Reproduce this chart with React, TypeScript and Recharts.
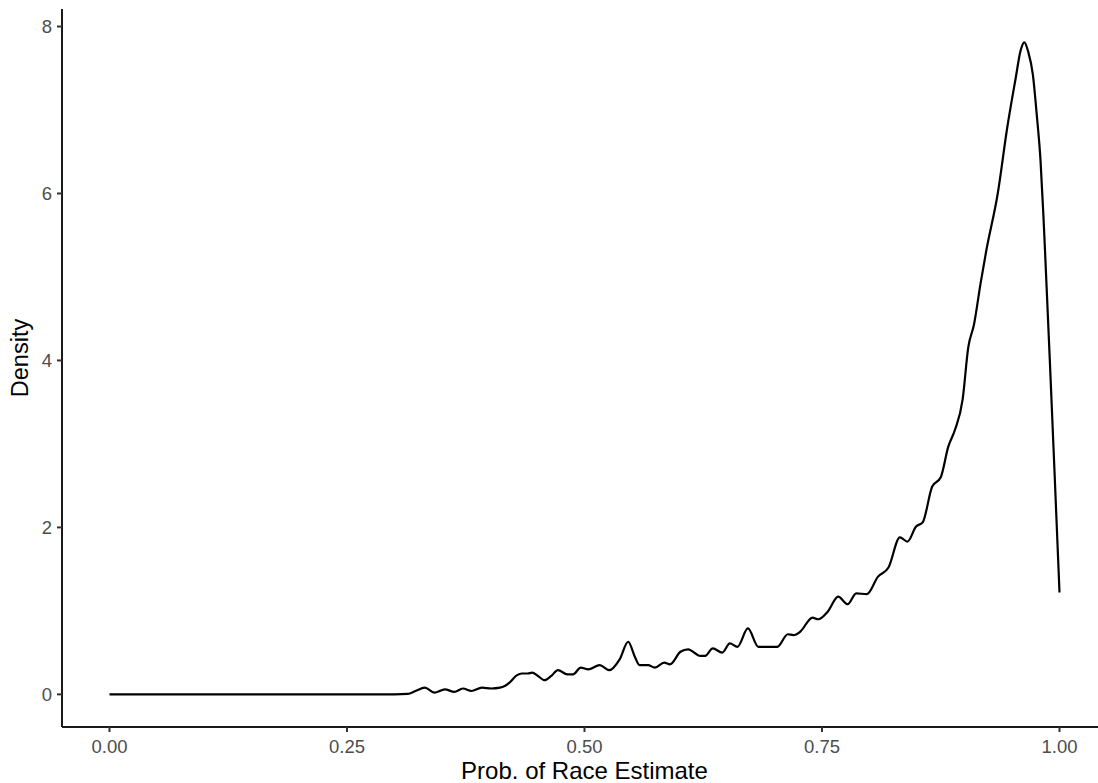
import React from 'react';
import { LineChart, Line, XAxis, YAxis, Label } from 'recharts';

// probability grid (x) and kernel density (y)
const probX = [
  0, 0.1, 0.2, 0.3, 0.314, 0.322, 0.332, 0.342, 0.353, 0.363, 0.372, 0.381, 0.392, 0.402,
  0.411, 0.416, 0.421, 0.429, 0.434, 0.44, 0.445, 0.451, 0.458, 0.465, 0.472, 0.482, 0.488,
  0.496, 0.504, 0.516, 0.526, 0.537, 0.546, 0.553, 0.558, 0.567, 0.574, 0.584, 0.59, 0.601,
  0.609, 0.622, 0.627, 0.635, 0.645, 0.653, 0.661, 0.672, 0.683, 0.703, 0.714, 0.72, 0.727,
  0.74, 0.746, 0.756, 0.767, 0.777, 0.786, 0.797, 0.809, 0.82, 0.832, 0.84, 0.849, 0.856,
  0.866, 0.875, 0.883, 0.89, 0.898, 0.904, 0.91, 0.917, 0.923, 0.935, 0.945, 0.954, 0.959,
  0.963, 0.967, 0.972, 0.976, 0.98, 0.983, 0.985, 0.99, 0.995, 1.0,
];
const densityY = [
  0, 0, 0, 0, 0.005, 0.04, 0.08, 0.02, 0.06, 0.03, 0.07, 0.04, 0.08, 0.07,
  0.08, 0.1, 0.14, 0.23, 0.25, 0.25, 0.26, 0.22, 0.17, 0.22, 0.29, 0.24, 0.24,
  0.32, 0.3, 0.35, 0.29, 0.42, 0.63, 0.45, 0.35, 0.35, 0.32, 0.38, 0.36, 0.51,
  0.54, 0.46, 0.46, 0.55, 0.5, 0.61, 0.57, 0.79, 0.57, 0.57, 0.72, 0.71, 0.75,
  0.92, 0.9, 0.99, 1.17, 1.08, 1.21, 1.2, 1.41, 1.52, 1.88, 1.83, 2.01, 2.06,
  2.49, 2.6, 2.97, 3.17, 3.53, 4.16, 4.43, 4.93, 5.32, 6.0, 6.79, 7.39, 7.71,
  7.81, 7.7, 7.42, 6.95, 6.4, 5.75, 5.25, 3.95, 2.6, 1.22,
];
const xTicks = [0, 0.25, 0.5, 0.75, 1];
const yTicks = [0, 2, 4, 6, 8];

const data = probX.map((x, i) => ({ x, density: densityY[i] }));

const font = '"Liberation Sans", Arial, sans-serif';
const tickStyle = { fill: '#4d4d4d', fontSize: 18.5, fontFamily: font };

export default function App() {
  return (
    <div style={{ position: 'absolute', left: 0, top: 0, width: 1098, height: 783, overflow: 'hidden', background: '#fff' }}>
      <LineChart width={1107} height={783} data={data} margin={{ top: 9, right: 0, bottom: 0, left: 0 }}>
        <XAxis
          dataKey="x"
          type="number"
          domain={[-0.05, 1.05]}
          ticks={xTicks}
          tickFormatter={(v: number) => v.toFixed(2)}
          allowDataOverflow
          height={56}
          tickSize={5}
          tickMargin={8}
          tick={tickStyle}
          axisLine={{ stroke: '#1a1a1a', strokeWidth: 2 }}
          tickLine={{ stroke: '#333', strokeWidth: 2 }}
        >
          <Label
            value="Prob. of Race Estimate"
            position="insideBottom"
            offset={4}
            style={{ fill: '#000', fontSize: 24, fontFamily: font }}
          />
        </XAxis>
        <YAxis
          type="number"
          domain={[-0.391, 8.21]}
          ticks={yTicks}
          allowDataOverflow
          width={62}
          tickSize={5}
          tickMargin={5}
          tick={tickStyle}
          axisLine={{ stroke: '#1a1a1a', strokeWidth: 2 }}
          tickLine={{ stroke: '#333', strokeWidth: 2 }}
        >
          <Label
            content={() => (
              <text
                x={20}
                y={358}
                transform="rotate(-90, 20, 358)"
                textAnchor="middle"
                dominantBaseline="central"
                style={{ fill: '#000', fontSize: 23.5, fontFamily: font }}
              >
                Density
              </text>
            )}
          />
        </YAxis>
        <Line
          type="monotone"
          dataKey="density"
          stroke="#000"
          strokeWidth={2.2}
          dot={false}
          isAnimationActive={false}
        />
      </LineChart>
    </div>
  );
}
